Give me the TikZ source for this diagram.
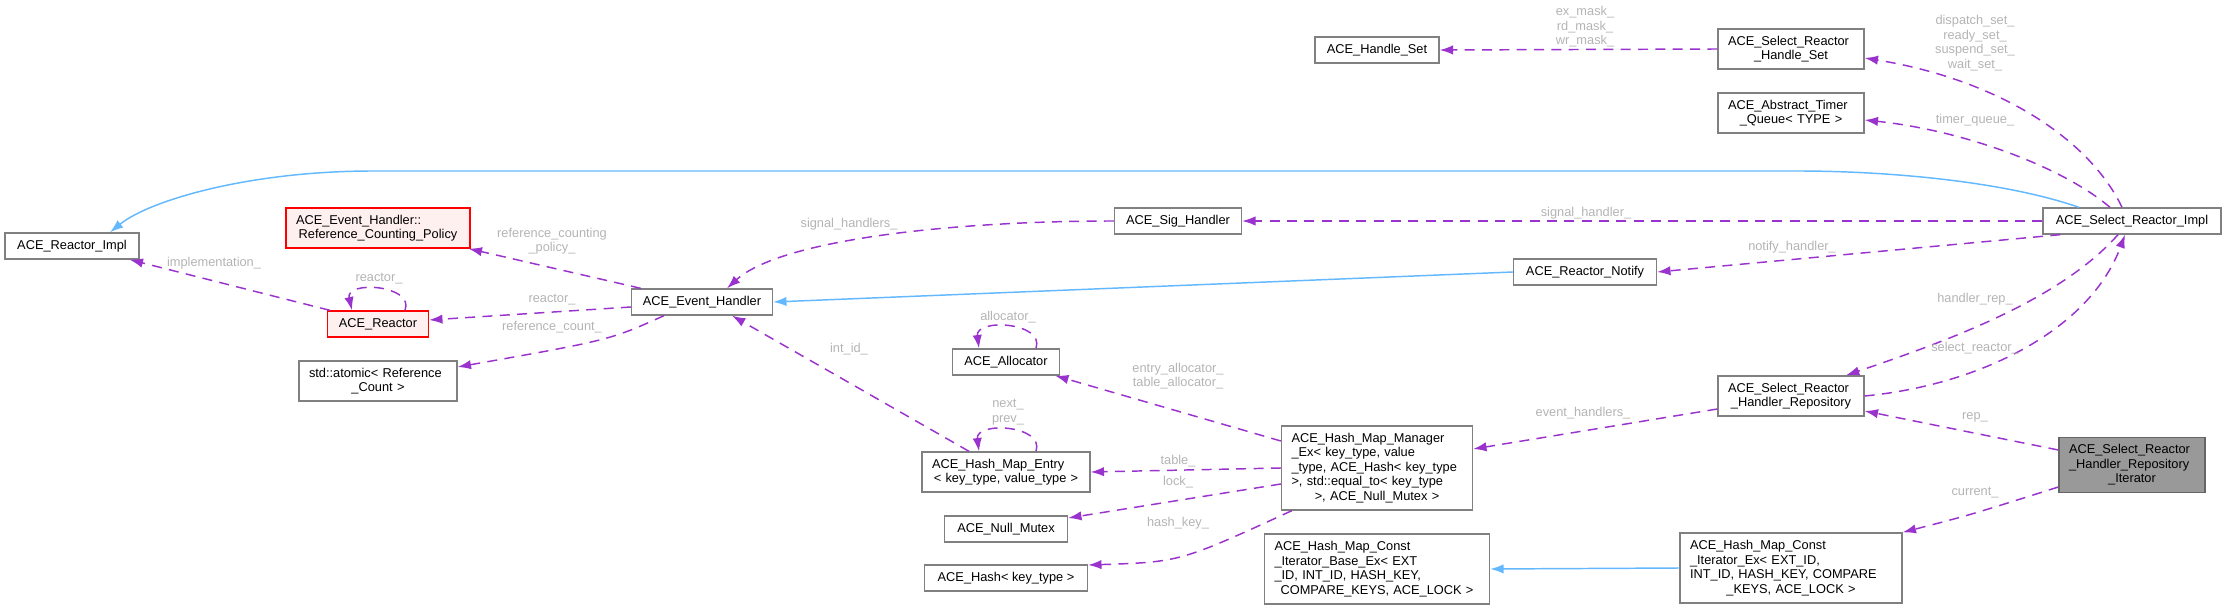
\documentclass[tikz,border=0pt]{standalone}
\usepackage{fontspec}
\setmainfont{Liberation Sans}
\usepackage{tikz}
\usetikzlibrary{arrows.meta,calc}

\definecolor{edgepurple}{HTML}{9A32CD}
\definecolor{inhblue}{HTML}{63B8FF}
\definecolor{lblgray}{HTML}{B4B4B4}
\definecolor{boxgray}{HTML}{808080}
\definecolor{redfill}{HTML}{FFF0F0}
\definecolor{curfill}{HTML}{999999}

% last line of a box is centred, the others flush left
\newcommand{\lastln}[1]{\hspace*{\fill}#1\hspace*{\fill}\mbox{}}

\tikzset{
  cls/.style={draw=boxgray, line width=1pt, fill=white, font=\fontsize{9.6}{10.9}\selectfont,
    inner xsep=7.5pt, inner ysep=1pt, minimum height=19.5pt},
  clsred/.style={cls, draw=red, fill=redfill},
  clscur/.style={cls, draw=black!60, fill=curfill},
  multi/.style={align=left, text width=#1},
  usage/.style={draw=edgepurple, line width=1.1pt, dash pattern=on 7.5pt off 5.5pt,
    -{Latex[length=10pt,width=7pt]}},
  inherit/.style={draw=inhblue, line width=1.1pt, -{Latex[length=10pt,width=7pt]}},
  lbl/.style={text=lblgray, font=\fontsize{9.6}{10.9}\selectfont, align=center, inner sep=0pt},
}

\begin{document}
\begin{tikzpicture}[x=0.75pt, y=-0.75pt]
\useasboundingbox (0,0) rectangle (2227,609);

% classes
\node[cls, minimum width=93pt] (handleset) at (1377,50) {ACE\_Handle\_Set};
\node[cls, multi=94.5pt, minimum height=30pt] (selhset) at (1791,49) {ACE\_Select\_Reactor\\\lastln{\_Handle\_Set}};
\node[cls, multi=94.5pt, minimum height=30pt] (timerq) at (1791,113) {ACE\_Abstract\_Timer\\\lastln{\_Queue< TYPE >}};
\node[cls, minimum width=133.5pt] (selimpl) at (2132,221) {ACE\_Select\_Reactor\_Impl};
\node[cls, minimum width=100.5pt] (reactorimpl) at (72,246) {ACE\_Reactor\_Impl};
\node[clsred, multi=123pt, minimum height=30pt] (refpolicy) at (378,228) {ACE\_Event\_Handler::\\\lastln{Reference\_Counting\_Policy}};
\node[cls, minimum width=95.25pt] (sighandler) at (1178,221) {ACE\_Sig\_Handler};
\node[cls, minimum width=107.25pt] (notify) at (1585,272) {ACE\_Reactor\_Notify};
\node[cls, minimum width=105.75pt] (evhandler) at (702,302) {ACE\_Event\_Handler};
\node[clsred, minimum width=75.75pt] (reactor) at (378,324) {ACE\_Reactor};
\node[cls, multi=103.5pt, minimum height=30pt] (atomic) at (378,381) {std::atomic< Reference\\\lastln{\_Count >}};
\node[cls, minimum width=80.25pt] (allocator) at (1006,362) {ACE\_Allocator};
\node[cls, multi=111pt, minimum height=30pt] (hmentry) at (1006,472) {ACE\_Hash\_Map\_Entry\\\lastln{< key\_type, value\_type >}};
\node[cls, minimum width=92.25pt] (nullmutex) at (1006,529) {ACE\_Null\_Mutex};
\node[cls, minimum width=122.25pt] (hash) at (1006,578) {ACE\_Hash< key\_type >};
\node[cls, multi=128.25pt, minimum height=63pt] (hmmanager) at (1377,468) {ACE\_Hash\_Map\_Manager\\\_Ex< key\_type, value\\\_type, ACE\_Hash< key\_type\\>, std::equal\_to< key\_type\\\lastln{>, ACE\_Null\_Mutex >}};
\node[cls, multi=153.75pt, minimum height=52.5pt] (hmbase) at (1377,569) {ACE\_Hash\_Map\_Const\\\_Iterator\_Base\_Ex< EXT\\\_ID, INT\_ID, HASH\_KEY,\\\lastln{COMPARE\_KEYS, ACE\_LOCK >}};
\node[cls, multi=151.5pt, minimum height=52.5pt] (hmiter) at (1791,568) {ACE\_Hash\_Map\_Const\\\_Iterator\_Ex< EXT\_ID,\\INT\_ID, HASH\_KEY, COMPARE\\\lastln{\_KEYS, ACE\_LOCK >}};
\node[cls, multi=94.5pt, minimum height=30pt] (repo) at (1791,396) {ACE\_Select\_Reactor\\\lastln{\_Handler\_Repository}};
\node[clscur, multi=94.5pt, minimum height=41.25pt] (repoiter) at (2132,465) {ACE\_Select\_Reactor\\\_Handler\_Repository\\\lastln{\_Iterator}};

% inheritance
\draw[inherit] ($(selimpl.north)+(-53,0)$) .. controls (2000,180) and (1880,171) .. (1798,171)
  -- (373,171) .. controls (250,171) and (150,200) .. ($(reactorimpl.north)+(38,0)$);
\draw[inherit] (notify.west) -- (evhandler.east);
\draw[inherit] (hmiter.west) -- (hmbase.east);

% usage
\draw[usage] (selhset.west) -- (handleset.east);
\draw[usage] ($(selimpl.north)+(-10,0)$) .. controls (2090,140) and (2000,80) .. ($(selhset.east)+(0,9)$);
\draw[usage] ($(selimpl.north)+(-22,0)$) .. controls (2060,165) and (1960,130) .. ($(timerq.east)+(0,7)$);
\draw[usage] (selimpl.west) -- (sighandler.east);
\draw[usage] ($(selimpl.south west)+(18,0)$) -- (notify.east);
\draw[usage] ($(selimpl.south)+(-14,0)$) .. controls (2060,300) and (1950,340) .. ($(repo.north)+(55,0)$);
\draw[usage] (repo.east) .. controls (1980,385) and (2090,330) .. ($(selimpl.south)+(-7,0)$);
\draw[usage] ($(repo.west)+(0,13)$) -- ($(hmmanager.east)+(0,-19)$);
\draw[usage] ($(repoiter.west)+(0,-15)$) -- ($(repo.east)+(0,15)$);
\draw[usage] ($(repoiter.west)+(0,22)$) .. controls (1970,515) .. (hmiter.north east);
\draw[usage] (sighandler.west) .. controls (950,221) and (780,240) .. ($(evhandler.north)+(25,0)$);
\draw[usage] ($(evhandler.north west)+(10,0)$) -- ($(refpolicy.south east)+(-2,0)$);
\draw[usage] ($(evhandler.west)+(0,5)$) -- ($(reactor.east)+(0,-4)$);
\draw[usage] ($(evhandler.south)+(-38,0)$) .. controls (610,340) .. ($(atomic.east)+(0,-14)$);
\draw[usage] ($(reactor.north)+(27,0)$) .. controls (415,285) and (345,280) .. ($(reactor.north)+(-26,0)$);
\draw[usage] ($(reactor.north west)+(3,0)$) -- ($(reactorimpl.south east)+(-10,0)$);
\draw[usage] ($(hmentry.north)+(-37,0)$) -- ($(evhandler.south)+(30,0)$);
\draw[usage] ($(allocator.north)+(30,0)$) .. controls (1045,322) and (975,318) .. ($(allocator.north)+(-27,0)$);
\draw[usage] ($(hmentry.north)+(30,0)$) .. controls (1045,425) and (975,421) .. ($(hmentry.north)+(-27,0)$);
\draw[usage] ($(hmmanager.west)+(0,-27)$) -- ($(allocator.south east)+(-5,0)$);
\draw[usage] (hmmanager.west) -- (hmentry.east);
\draw[usage] ($(hmmanager.west)+(0,16)$) -- ($(nullmutex.east)+(0,-11)$);
\draw[usage] ($(hmmanager.south west)+(11,0)$) .. controls (1180,562) .. ($(hash.east)+(0,-13)$);

% member names
\node[lbl] (l-masks) at (1585,27) {ex\_mask\_\\rd\_mask\_\\wr\_mask\_};
\node[lbl] (l-sets) at (1975,43) {dispatch\_set\_\\ready\_set\_\\suspend\_set\_\\wait\_set\_};
\node[lbl] (l-timer) at (1975,120) {timer\_queue\_};
\node[lbl] (l-sigh) at (1586,213) {signal\_handler\_};
\node[lbl] (l-notify) at (1792,247) {notify\_handler\_};
\node[lbl] (l-hrep) at (1975,299) {handler\_rep\_};
\node[lbl] (l-selr) at (1975,348) {select\_reactor\_};
\node[lbl] (l-evh) at (1583,413) {event\_handlers\_};
\node[lbl] (l-rep) at (1975,417) {rep\_};
\node[lbl] (l-cur) at (1975,493) {current\_};
\node[lbl] (l-sighs) at (849,224) {signal\_handlers\_};
\node[lbl] (l-rcp) at (552,241) {reference\_counting\\\_policy\_};
\node[lbl] (l-reactor) at (552,300) {reactor\_};
\node[lbl] (l-rcount) at (552,327) {reference\_count\_};
\node[lbl] (l-self) at (379,279) {reactor\_};
\node[lbl] (l-impl) at (214,263) {implementation\_};
\node[lbl] (l-intid) at (849,349) {int\_id\_};
\node[lbl] (l-alloc) at (1008,317) {allocator\_};
\node[lbl] (l-next) at (1008,412) {next\_\\prev\_};
\node[lbl] (l-allocs) at (1178,376) {entry\_allocator\_\\table\_allocator\_};
\node[lbl] (l-table) at (1178,461) {table\_};
\node[lbl] (l-lock) at (1178,482) {lock\_};
\node[lbl] (l-hkey) at (1178,523) {hash\_key\_};
\end{tikzpicture}
\end{document}
